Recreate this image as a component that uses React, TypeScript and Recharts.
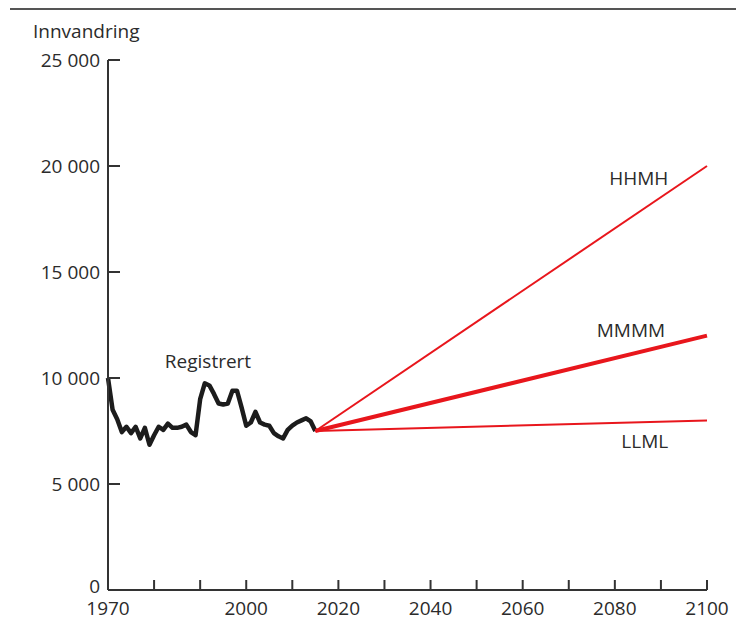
import React from 'react';
import { LineChart, Line, XAxis, YAxis, ReferenceDot } from 'recharts';

const registeredYears = [
  1970, 1971, 1972, 1973, 1974, 1975, 1976, 1977, 1978, 1979,
  1980, 1981, 1982, 1983, 1984, 1985, 1986, 1987, 1988, 1989,
  1990, 1991, 1992, 1993, 1994, 1995, 1996, 1997, 1998, 1999,
  2000, 2001, 2002, 2003, 2004, 2005, 2006, 2007, 2008, 2009,
  2010, 2011, 2012, 2013, 2014, 2015,
];
const registeredValues = [
  10000, 8500, 8050, 7450, 7700, 7400, 7700, 7150, 7650, 6850,
  7300, 7700, 7550, 7850, 7650, 7650, 7700, 7800, 7450, 7300,
  9000, 9750, 9650, 9250, 8800, 8750, 8800, 9400, 9400, 8600,
  7750, 7900, 8400, 7900, 7800, 7750, 7400, 7250, 7150, 7550,
  7750, 7900, 8000, 8100, 7950, 7500,
];

const projectionYears = [2015, 2100];
const hhmhValues = [7500, 20000];
const mmmmValues = [7500, 12000];
const llmlValues = [7500, 8000];

const xTicks = [1970, 1980, 1990, 2000, 2010, 2020, 2030, 2040, 2050, 2060, 2070, 2080, 2090, 2100];
const xLabeled = [1970, 2000, 2020, 2040, 2060, 2080, 2100];
const yTicks = [0, 5000, 10000, 15000, 20000, 25000];

const registered = registeredYears.map((year, i) => ({ year, value: registeredValues[i] }));
const hhmh = projectionYears.map((year, i) => ({ year, value: hhmhValues[i] }));
const mmmm = projectionYears.map((year, i) => ({ year, value: mmmmValues[i] }));
const llml = projectionYears.map((year, i) => ({ year, value: llmlValues[i] }));

const FONT = '"Open Sans", sans-serif';
const FS = 19;
const TEXT = '#2b2b2b';
const AXIS = '#333333';
const RED = '#e8161c';

const fmtY = (v: number) => (v === 0 ? '0' : `${Math.floor(v / 1000)} ${String(v % 1000).padStart(3, '0')}`);
const fmtX = (v: number) => (xLabeled.includes(v) ? String(v) : '');

const labelStyle = { fontFamily: FONT, fontSize: FS, fill: TEXT };

const YTick = (props: any) => {
  const { x, y, payload } = props;
  const v = payload.value as number;
  return (
    <text
      x={x}
      y={y + (v === 0 ? -4 : 0)}
      dy="0.36em"
      textAnchor="end"
      fontFamily={FONT}
      fontSize={FS}
      fill={TEXT}
    >
      {fmtY(v)}
    </text>
  );
};

export default function App() {
  return (
    <div style={{ position: 'absolute', left: 0, top: 0, width: 736, height: 626, background: '#fff' }}>
      <div style={{ position: 'absolute', left: 10, top: 8, width: 726, height: 2, background: '#555' }} />
      <div
        style={{
          position: 'absolute',
          left: 33,
          top: 19,
          fontFamily: FONT,
          fontSize: FS,
          color: TEXT,
          lineHeight: '24px',
        }}
      >
        Innvandring
      </div>
      <LineChart
        width={736}
        height={626}
        margin={{ top: 60, right: 29, bottom: 0, left: 8 }}
      >
        <XAxis
          dataKey="year"
          type="number"
          domain={[1970, 2100]}
          ticks={xTicks}
          tickFormatter={fmtX}
          interval={0}
          allowDuplicatedCategory={false}
          height={36}
          tickSize={-10}
          tickMargin={22}
          stroke={AXIS}
          strokeWidth={2}
          tick={{ fontFamily: FONT, fontSize: FS, fill: TEXT }}
        />
        <YAxis
          type="number"
          domain={[0, 25000]}
          ticks={yTicks}
          interval={0}
          width={100}
          tickSize={-12}
          tickMargin={20}
          stroke={AXIS}
          strokeWidth={2}
          tick={<YTick />}
        />
        <Line data={registered} dataKey="value" stroke="#1c1c1c" strokeWidth={4.5} dot={false} isAnimationActive={false} strokeLinejoin="round" />
        <Line data={hhmh} dataKey="value" stroke={RED} strokeWidth={2} dot={false} isAnimationActive={false} />
        <Line data={mmmm} dataKey="value" stroke={RED} strokeWidth={4} dot={false} isAnimationActive={false} />
        <Line data={llml} dataKey="value" stroke={RED} strokeWidth={2} dot={false} isAnimationActive={false} />
        <ReferenceDot x={1991.7} y={10800} r={0} stroke="none" fill="none" label={{ value: 'Registrert', position: 'center', style: labelStyle }} />
        <ReferenceDot x={2085.2} y={19430} r={0} stroke="none" fill="none" label={{ value: 'HHMH', position: 'center', style: labelStyle }} />
        <ReferenceDot x={2083.5} y={12260} r={0} stroke="none" fill="none" label={{ value: 'MMMM', position: 'center', style: labelStyle }} />
        <ReferenceDot x={2086.5} y={7030} r={0} stroke="none" fill="none" label={{ value: 'LLML', position: 'center', style: labelStyle }} />
      </LineChart>
    </div>
  );
}
